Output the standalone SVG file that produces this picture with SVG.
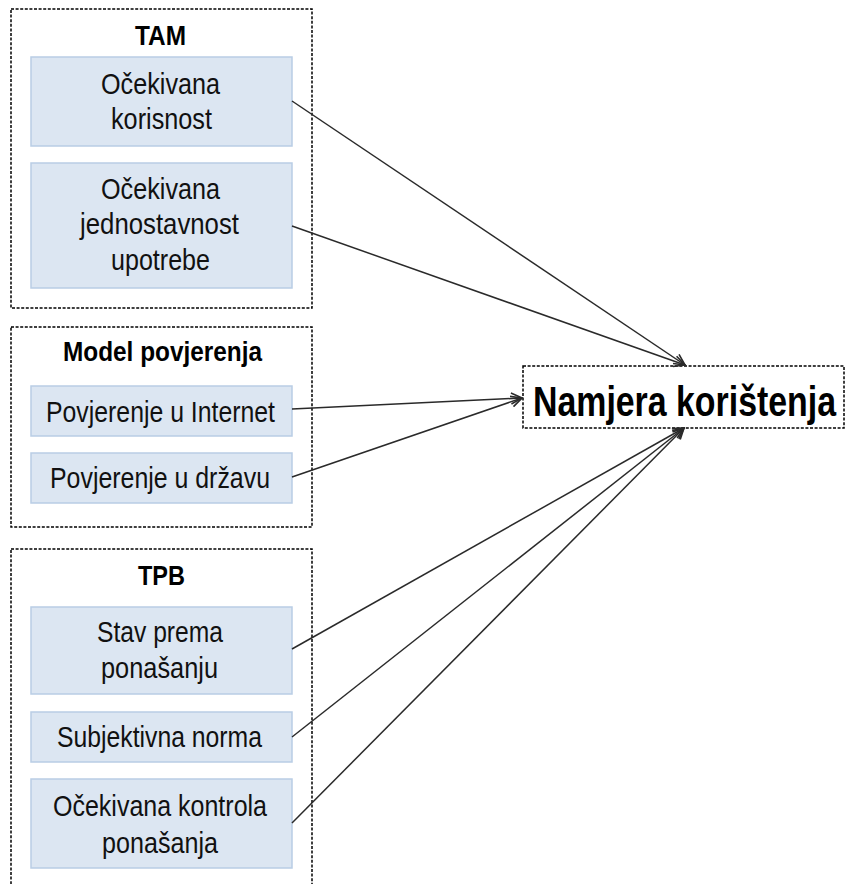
<svg xmlns="http://www.w3.org/2000/svg" width="845" height="884" viewBox="0 0 845 884">
<style>
.grp{fill:#fff;stroke:#000;stroke-width:1.5;stroke-dasharray:3,1.6}
.box{fill:#dce6f2;stroke:#b9cde5;stroke-width:1.5}
.t{font-family:"Liberation Sans",Arial,sans-serif;font-size:29px;fill:#111}
.h{font-family:"Liberation Sans",Arial,sans-serif;font-size:28px;font-weight:bold;fill:#000}
.big{font-family:"Liberation Sans",Arial,sans-serif;font-size:42px;font-weight:bold;fill:#000}
.c{stroke:#2a2a2a;stroke-width:1.5;fill:none;marker-end:url(#ah)}
</style>
<defs>
<marker id="ah" viewBox="0 0 12 12" refX="11" refY="6" markerWidth="13" markerHeight="13" markerUnits="userSpaceOnUse" orient="auto">
<path d="M1,1 L11,6 L1,11" fill="none" stroke="#2a2a2a" stroke-width="1.5"/>
</marker>
</defs>
<rect width="845" height="884" fill="#fff"/>

<g id="tam">
<rect class="grp" x="11" y="9" width="301" height="299"/>
<text class="h" x="135" y="45" textLength="51" lengthAdjust="spacingAndGlyphs">TAM</text>
</g>
<g id="ocekivana-korisnost">
<rect class="box" x="31" y="57" width="261" height="89"/>
<text class="t" x="101" y="94" textLength="119" lengthAdjust="spacingAndGlyphs">Očekivana</text>
<text class="t" x="111" y="129" textLength="101" lengthAdjust="spacingAndGlyphs">korisnost</text>
</g>
<g id="ocekivana-jednostavnost">
<rect class="box" x="31" y="163" width="261" height="125"/>
<text class="t" x="101" y="199" textLength="119" lengthAdjust="spacingAndGlyphs">Očekivana</text>
<text class="t" x="80" y="234" textLength="159" lengthAdjust="spacingAndGlyphs">jednostavnost</text>
<text class="t" x="111" y="270" textLength="99" lengthAdjust="spacingAndGlyphs">upotrebe</text>
</g>

<g id="model-povjerenja">
<rect class="grp" x="11" y="327" width="301" height="200"/>
<text class="h" x="63" y="361" textLength="199" lengthAdjust="spacingAndGlyphs">Model povjerenja</text>
</g>
<g id="povjerenje-internet">
<rect class="box" x="31" y="386" width="261" height="50"/>
<text class="t" x="46" y="422" textLength="229" lengthAdjust="spacingAndGlyphs">Povjerenje u Internet</text>
</g>
<g id="povjerenje-drzava">
<rect class="box" x="31" y="453" width="261" height="50"/>
<text class="t" x="50" y="488" textLength="220" lengthAdjust="spacingAndGlyphs">Povjerenje u državu</text>
</g>

<g id="tpb">
<rect class="grp" x="11" y="549" width="301" height="345"/>
<text class="h" x="138" y="585" textLength="47" lengthAdjust="spacingAndGlyphs">TPB</text>
</g>
<g id="stav">
<rect class="box" x="31" y="607" width="261" height="87"/>
<text class="t" x="97" y="642" textLength="126" lengthAdjust="spacingAndGlyphs">Stav prema</text>
<text class="t" x="101" y="678" textLength="117" lengthAdjust="spacingAndGlyphs">ponašanju</text>
</g>
<g id="subjektivna">
<rect class="box" x="31" y="712" width="261" height="50"/>
<text class="t" x="57" y="747" textLength="205" lengthAdjust="spacingAndGlyphs">Subjektivna norma</text>
</g>
<g id="kontrola">
<rect class="box" x="31" y="779" width="261" height="89"/>
<text class="t" x="53" y="816" textLength="214" lengthAdjust="spacingAndGlyphs">Očekivana kontrola</text>
<text class="t" x="102" y="853" textLength="116" lengthAdjust="spacingAndGlyphs">ponašanja</text>
</g>

<g id="namjera">
<rect class="grp" x="523" y="366" width="321" height="62"/>
<text class="big" x="533" y="416" textLength="303" lengthAdjust="spacingAndGlyphs">Namjera korištenja</text>
</g>

<g id="connectors">
<line class="c" x1="292" y1="101" x2="685" y2="365"/>
<line class="c" x1="292" y1="226" x2="685" y2="365"/>
<line class="c" x1="292" y1="409" x2="522" y2="398"/>
<line class="c" x1="292" y1="477" x2="522" y2="398"/>
<line class="c" x1="292" y1="649" x2="684" y2="428"/>
<line class="c" x1="292" y1="737" x2="684" y2="428"/>
<line class="c" x1="292" y1="823" x2="684" y2="428"/>
</g>
</svg>
